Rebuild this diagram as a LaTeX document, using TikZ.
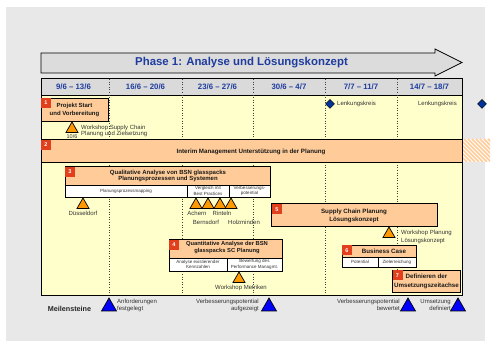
\documentclass[tikz,border=0pt]{standalone}
\usepackage{fontspec}
\setmainfont{Liberation Sans}
\usetikzlibrary{shapes.geometric}

\definecolor{bggray}{HTML}{E8E8E8}
\definecolor{arrowgray}{HTML}{DCDCDC}
\definecolor{headgray}{HTML}{DADADA}
\definecolor{paleyellow}{HTML}{FFFFCC}
\definecolor{boxorange}{HTML}{FFCC99}
\definecolor{tagred}{RGB}{226,64,28}
\definecolor{triorange}{HTML}{FF9900}
\definecolor{msblue}{HTML}{0000FF}
\definecolor{diamondblue}{HTML}{003399}
\definecolor{titleblue}{RGB}{30,60,160}
\definecolor{labelgray}{HTML}{333333}

\begin{document}
\begin{tikzpicture}[x=1pt,y=-1pt,
  stepbox/.style={draw=black,line width=0.9pt,fill=boxorange,inner sep=0pt,outer sep=0pt,anchor=north west},
  subbox/.style={draw=black,line width=0.7pt,fill=white,inner sep=0pt,outer sep=0pt,anchor=north west},
  numtag/.style={fill=tagred,text=white,inner sep=0pt,outer sep=0pt,minimum size=10pt,anchor=north west,font=\fontsize{5.5}{6}\selectfont\bfseries},
  boxtxt/.style={inner sep=0pt,align=center,text=black!90,font=\fontsize{6}{7.5}\selectfont\bfseries},
  subtxt/.style={inner sep=0pt,align=center,text=labelgray,font=\fontsize{4.5}{5.6}\selectfont},
  lbl/.style={inner sep=0pt,text=labelgray,font=\fontsize{6}{7}\selectfont},
  otri/.style={regular polygon,regular polygon sides=3,draw=black,line width=0.7pt,fill=triorange,minimum size=13.9pt,inner sep=0pt,outer sep=0pt,anchor=corner 1},
  btri/.style={regular polygon,regular polygon sides=3,draw=black,line width=0.7pt,fill=msblue,minimum size=17.3pt,inner sep=0pt,outer sep=0pt,anchor=corner 1},
  lkdiamond/.style={diamond,draw=black,line width=0.5pt,fill=diamondblue,minimum size=9pt,inner sep=0pt},
  gridline/.style={black!75,line width=0.5pt,dash pattern=on 1pt off 1.6pt},
  datetxt/.style={inner sep=0pt,text=titleblue,font=\fontsize{7.8}{9}\selectfont\bfseries}
]
\useasboundingbox (0,0) rectangle (491,347);

% page background
\fill[bggray] (6,7) rectangle (485,341);

% phase arrow
\draw[fill=arrowgray,line width=0.7pt]
  (41,53) -- (435,53) -- (435,49) -- (462,62.5) -- (435,76) -- (435,73) -- (41,73) -- cycle;
\node[inner sep=0pt,text=titleblue,font=\fontsize{11.4}{13}\selectfont\bfseries] (title) at (241.5,63)
  {Phase 1: Analyse und Lösungskonzept};

% week header and plan area
\node[draw=black,line width=0.8pt,fill=headgray,anchor=north west,minimum width=421pt,minimum height=17pt,inner sep=0pt] (head) at (41,78) {};
\node[draw=black,line width=0.8pt,fill=paleyellow,anchor=north west,minimum width=421pt,minimum height=200pt,inner sep=0pt] (plan) at (41,95) {};

\node[datetxt] (w1) at (73.5,87) {9/6 – 13/6};
\node[datetxt] (w2) at (145.5,87) {16/6 – 20/6};
\node[datetxt] (w3) at (217.5,87) {23/6 – 27/6};
\node[datetxt] (w4) at (289,87) {30/6 – 4/7};
\node[datetxt] (w5) at (361,87) {7/7 – 11/7};
\node[datetxt] (w6) at (429.5,87) {14/7 – 18/7};

% week separators
\foreach \gx in {109,182,253,325,397}
  \draw[gridline] (\gx,79) -- (\gx,294.5);

% 1: project start
\node[stepbox,minimum width=67pt,minimum height=23pt] (b1) at (41,98) {};
\node[numtag] (t1) at (41,98) {1};
\node[boxtxt,font=\fontsize{6}{8}\selectfont\bfseries] (b1t) at (74.5,110) {Projekt Start\\und Vorbereitung};
\node[otri] (k1) at (72,122) {};
\node[lbl,font=\fontsize{5.5}{6}\selectfont] (k1d) at (72,137) {10/6};
\node[lbl,anchor=west,align=left,font=\fontsize{6}{6.7}\selectfont] (k1t) at (81,131) {Workshop Supply Chain\\Planung und Zielsetzung};

% steering committee
\node[lkdiamond] (lk1) at (330,104) {};
\node[lbl,anchor=west] (lk1t) at (337,104) {Lenkungskreis};
\node[lbl,anchor=east] (lk2t) at (457,104) {Lenkungskreis};
\node[lkdiamond] (lk2) at (482,104) {};

% 2: interim management band
\begin{scope}
  \clip (462,139) rectangle (490,162);
  \fill[white] (462,139) rectangle (490,162);
  \foreach \hx in {436,440,...,492}
    \draw[boxorange,line width=1.6pt] (\hx,139) -- (\hx+23,162);
\end{scope}
\node[stepbox,minimum width=421pt,minimum height=23pt] (b2) at (41,139) {};
\node[numtag] (t2) at (41,140) {2};
\node[boxtxt,font=\fontsize{6.2}{7.5}\selectfont\bfseries] (b2t) at (251,152) {Interim Management Unterstützung in der Planung};

% 3: qualitative analysis
\node[stepbox,minimum width=205pt,minimum height=19pt] (b3) at (65,166) {};
\node[numtag] (t3) at (65,167) {3};
\node[boxtxt,font=\fontsize{6}{6.8}\selectfont\bfseries] (b3t) at (168,176) {Qualitative Analyse von BSN glasspacks\\Planungsprozessen und Systemen};
\node[subbox,minimum width=122pt,minimum height=12pt] (s31) at (65,185) {};
\node[subbox,minimum width=42pt,minimum height=12pt] (s32) at (187,185) {};
\node[subbox,minimum width=41pt,minimum height=12pt] (s33) at (229,185) {};
\node[subtxt] (s31t) at (126,191) {Planungsprozessmapping};
\node[subtxt] (s32t) at (208,191) {Vergleich mit\\Best Practices};
\node[subtxt] (s33t) at (249.5,191) {Verbesserungs-\\potential};

\node[otri] (k3a) at (83,198) {};
\node[lbl] (k3at) at (83,213) {Düsseldorf};
\node[otri] (k3b) at (196,198) {};
\node[otri] (k3c) at (208,198) {};
\node[otri] (k3d) at (220,198) {};
\node[otri] (k3e) at (231,198) {};
\node[lbl] (k3bt) at (197,213) {Achern};
\node[lbl] (k3dt) at (222,213) {Rinteln};
\node[lbl] (k3ct) at (206,222) {Bernsdorf};
\node[lbl,anchor=west] (k3et) at (228,222) {Holzminden};

% 5: supply chain planning concept
\node[stepbox,minimum width=166pt,minimum height=23pt] (b5) at (271,203) {};
\node[numtag] (t5) at (272,204.5) {5};
\node[boxtxt,font=\fontsize{6.2}{8}\selectfont\bfseries] (b5t) at (354,216) {Supply Chain Planung\\Lösungskonzept};
\node[otri] (k5) at (389,227) {};
\node[lbl,anchor=west,align=left,font=\fontsize{6}{7.8}\selectfont] (k5t) at (401,237) {Workshop Planung\\Lösungskonzept};

% 4: quantitative analysis
\node[stepbox,minimum width=113pt,minimum height=19pt] (b4) at (169,239) {};
\node[numtag] (t4) at (169,240) {4};
\node[boxtxt,font=\fontsize{5.8}{7}\selectfont\bfseries] (b4t) at (227,247.5) {Quantitative Analyse der BSN\\glasspacks SC Planung};
\node[subbox,minimum width=58pt,minimum height=13pt] (s41) at (169,258) {};
\node[subbox,minimum width=55pt,minimum height=13pt] (s42) at (227,258) {};
\node[subtxt] (s41t) at (198,264.5) {Analyse existierender\\Kennzahlen};
\node[subtxt] (s42t) at (254.5,264.5) {Bewertung des\\Performance Managmt.};
\node[otri] (k4) at (239,272) {};
\node[lbl] (k4t) at (241,288) {Workshop Metriken};

% 6: business case
\node[stepbox,minimum width=74pt,minimum height=12pt] (b6) at (342,245) {};
\node[numtag] (t6) at (342,245.5) {6};
\node[boxtxt,font=\fontsize{6.2}{7}\selectfont\bfseries] (b6t) at (384,251.5) {Business Case};
\node[subbox,minimum width=36pt,minimum height=10pt] (s61) at (342,257) {};
\node[subbox,minimum width=38pt,minimum height=10pt] (s62) at (378,257) {};
\node[subtxt] (s61t) at (360,262) {Potential};
\node[subtxt] (s62t) at (397,262) {Zielerreichung};

% 7: implementation timeline
\node[stepbox,minimum width=68pt,minimum height=22pt] (b7) at (392,270) {};
\node[numtag] (t7) at (392.5,270.5) {7};
\node[boxtxt,font=\fontsize{6.2}{8.5}\selectfont\bfseries] (b7t) at (426.5,281.5) {Definieren der\\Umsetzungszeitachse};

% milestones
\node[inner sep=0pt,text=black!85,font=\fontsize{7.2}{8}\selectfont\bfseries] (ms) at (69.5,309) {Meilensteine};
\node[btri] (m1) at (109,298) {};
\node[btri] (m2) at (269,298) {};
\node[btri] (m3) at (408,298) {};
\node[btri] (m4) at (458,298) {};
\node[lbl,anchor=west,align=left,font=\fontsize{6}{7}\selectfont] (m1t) at (117,305) {Anforderungen\\festgelegt};
\node[lbl,anchor=east,align=right,font=\fontsize{6}{7}\selectfont] (m2t) at (259,305) {Verbesserungspotential\\aufgezeigt};
\node[lbl,anchor=east,align=right,font=\fontsize{6}{7}\selectfont] (m3t) at (400,305) {Verbesserungspotential\\bewertet};
\node[lbl,anchor=east,align=right,font=\fontsize{6}{7}\selectfont] (m4t) at (451,305) {Umsetzung\\definiert};
\end{tikzpicture}
\end{document}
